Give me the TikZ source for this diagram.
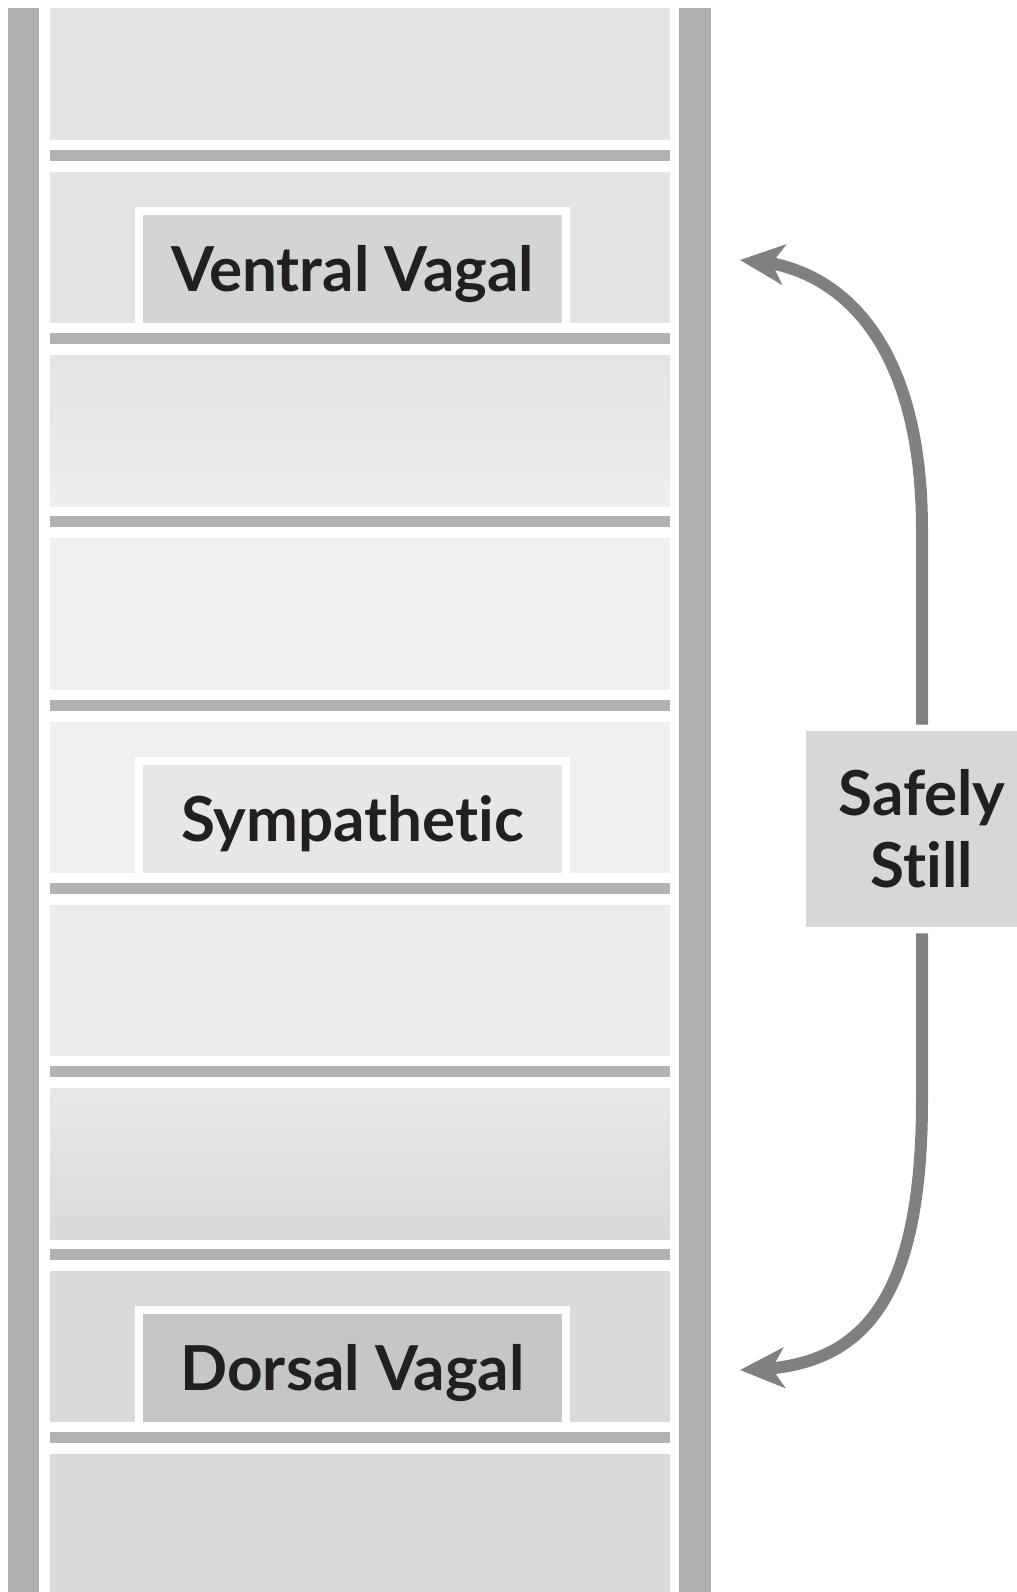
\documentclass[tikz,border=0pt]{standalone}
\usepackage{fontspec}
\setmainfont{Lato}[Ligatures={NoCommon,NoRare,NoContextual}]
\usetikzlibrary{arrows.meta,bending,positioning}

\definecolor{railgray}{HTML}{AEAFB1}
\definecolor{stripgray}{HTML}{B1B2B4}
\definecolor{arrowgray}{HTML}{7F8082}
\definecolor{inkgray}{HTML}{231F20}
\definecolor{ventralfill}{HTML}{D3D4D6}
\definecolor{sympfill}{HTML}{E6E7E9}
\definecolor{dorsalfill}{HTML}{C5C6C8}
\definecolor{stillfill}{HTML}{D6D7D9}

\tikzset{
  stagebox/.style={draw=white,line width=4pt,minimum width=213.5pt,minimum height=58pt,
    inner sep=0pt,text height=22.5pt,text depth=0pt,text=inkgray,
    font=\fontsize{31}{36}\selectfont\bfseries},
  stillbox/.style={fill=stillfill,minimum width=116pt,minimum height=98pt,inner sep=0pt,
    align=center,text=inkgray,font=\fontsize{31}{36}\selectfont\bfseries},
  stillarrow/.style={draw=arrowgray,line width=6pt,
    -{Stealth[length=22pt,width=20pt,inset=6pt]}}
}

\begin{document}
\begin{tikzpicture}[x=0.5pt,y=-0.5pt]
\useasboundingbox (0,0) rectangle (1017,1592);
\fill[white] (0,0) rectangle (1017,1592);
\fill[railgray] (8,8) rectangle (39,1592);
\fill[railgray] (679,8) rectangle (711,1592);
\foreach \ytop/\ybot/\col in {8/140/E3E4E6,172/323.2/E3E4E6,538.4/689.6/EFEFEF,
  721.6/872.8/EFEFEF,904.8/1056/ECECEC,1271.2/1422.4/D9DADB,1454.4/1592/D8D9DB}
  {\definecolor{panelfill}{HTML}{\col}
   \fill[panelfill] (50,\ytop) rectangle (670,\ybot);}
\shade[top color={rgb,255:red,228;green,228;blue,229},bottom color={rgb,255:red,238;green,238;blue,238}]
  (50,355.2) rectangle (670,506.4);
\shade[top color={rgb,255:red,233;green,233;blue,234},bottom color={rgb,255:red,216;green,217;blue,219}]
  (50,1088) rectangle (670,1239.2);
\foreach \k in {0,...,7}
  \fill[stripgray] (50,155.5+183.2*\k-5.5) rectangle (670,155.5+183.2*\k+5.5);

\node[stagebox,fill=ventralfill] (ventral) at (352.5,269.2) {Ventral Vagal};
\node[stagebox,fill=sympfill] (sympathetic) at (352.5,818.8) {Sympathetic};
\node[stagebox,fill=dorsalfill] (dorsal) at (352.5,1368.4) {Dorsal Vagal};

\node[stillbox] (still) at (922,829) {Safely\\Still};
\coordinate (ventraltip) at (740,260);
\coordinate (dorsaltip) at (740,1370);

\draw[stillarrow] ([yshift=3pt]still.north) -- (922,530)
  .. controls (922,330) and (830,261) .. (ventraltip);
\draw[stillarrow] ([yshift=-3pt]still.south) -- (922,1100)
  .. controls (922,1320) and (850,1370) .. (dorsaltip);
\end{tikzpicture}
\end{document}
